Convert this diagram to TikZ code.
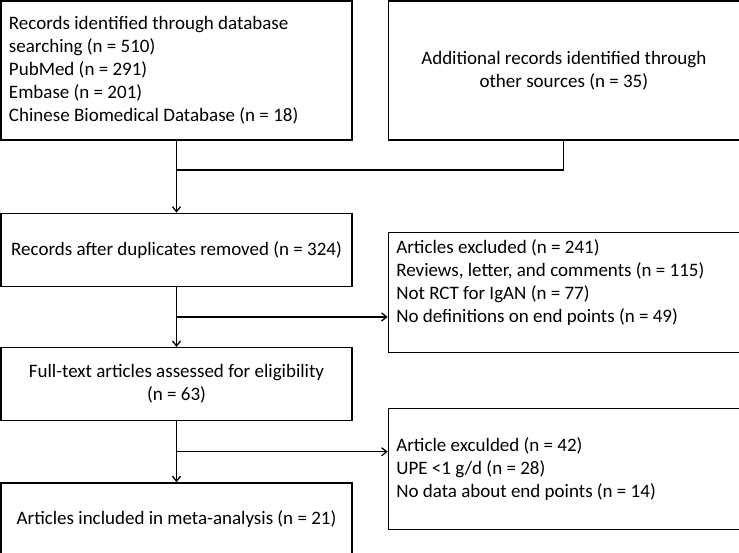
\documentclass[tikz,border=0pt]{standalone}
\usepackage{fontspec}
\setmainfont{Carlito}
\usepackage{tikz}
\usetikzlibrary{positioning,calc,shapes,arrows.meta}

\begin{document}
\begin{tikzpicture}[x=1pt,y=1pt,
  >={Straight Barb[length=5pt,width=8pt]},
  every path/.style={line width=1.3pt},
  box/.style={draw,rectangle,minimum width=351pt,inner xsep=8pt,inner ysep=0pt,
    font=\fontsize{19}{23}\selectfont},
  leftbox/.style={box,text width=335pt,align=flush left},
  midbox/.style={box,align=center}]
\useasboundingbox (0,0) rectangle (739,-552);
% top row
\node[leftbox,minimum height=139pt] (rec) at (176.5,-70.5) {Records identified through database\\
searching (n = 510)\\ PubMed (n = 291)\\ Embase (n = 201)\\ Chinese Biomedical Database (n = 18)};
\node[midbox,minimum height=139pt] (other) [right =35pt of rec] {Additional records identified through\\ other sources (n = 35)};
% left column
\node[midbox,minimum height=73pt] (dup) [below =72pt of rec] {Records after duplicates removed (n = 324)};
\node[midbox,minimum height=73pt] (full) [below =60pt of dup] {Full-text articles assessed for eligibility\\ (n = 63)};
\node[midbox,minimum height=72pt] (incl) [below =61pt of full] {Articles included in meta-analysis (n = 21)};
% exclusions
\node[leftbox,minimum height=120pt] (excl1) [below =91pt of other] {Articles excluded (n = 241)\\
Reviews, letter, and comments (n = 115)\\ Not RCT for IgAN (n = 77)\\ No definitions on end points (n = 49)\\ ~};
\node[leftbox,minimum height=121pt] (excl2) [below =55pt of excl1] {Article exculded (n = 42)\\
UPE <1 g/d (n = 28)\\ No data about end points (n = 14)};
% the arrows
\coordinate (m1) at (rec.south |- 0,-170);
\coordinate (b1) at ($(dup.south)!0.5!(full.north)$);
\coordinate (b2) at ($(full.south)!0.5!(incl.north)$);
\draw[->] (rec) -- (dup);
\draw[-] (other.south) |- (m1);
\draw[->] (dup) -- (full);
\draw[->] (b1) -- (b1 -| excl1.west);
\draw[->] (full) -- (incl);
\draw[->] (b2) -- (b2 -| excl2.west);
\end{tikzpicture}
\end{document}
